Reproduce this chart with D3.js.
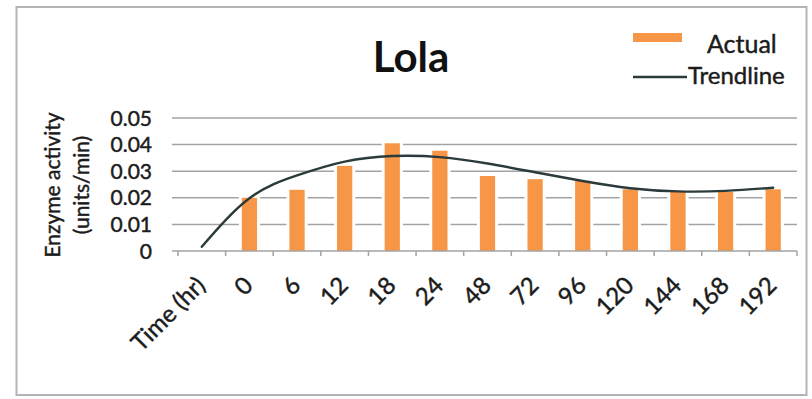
<!DOCTYPE html>
<html>
<head>
<meta charset="utf-8">
<script src="https://cdn.jsdelivr.net/npm/d3@7"></script>
<style>
  html, body { margin: 0; padding: 0; background: #fff; }
  svg { display: block; font-family: Lato, "Open Sans", sans-serif; }
  .lbl { stroke: #1c1c1c; stroke-width: 0.45px; }
</style>
</head>
<body>
<svg id="chart" width="812" height="399"></svg>
<script>
// Sampling times (first slot carries the axis caption)
const categories = ["Time (hr)", "0", "6", "12", "18", "24", "48", "72", "96", "120", "144", "168", "192"];
// Measured enzyme activity (units/min); no measurement in the caption slot
const actual = [null, 0.020, 0.023, 0.032, 0.0405, 0.0377, 0.0282, 0.027, 0.0264, 0.0232, 0.0222, 0.0222, 0.0232];
// Fitted trend values at each category
const trend = [0.0016, 0.0198, 0.0284, 0.0336, 0.0357, 0.0353, 0.0329, 0.0296, 0.0263, 0.0236, 0.0224, 0.0226, 0.0238];
const yTicks = [0, 0.01, 0.02, 0.03, 0.04, 0.05];
const yTickLabels = ["0", "0.01", "0.02", "0.03", "0.04", "0.05"];

const ORANGE = "#F79646";
const LINE = "#2b3a3a";
const GRID = "#a3a3a3";
const TEXT = "#1c1c1c";

const svg = d3.select("#chart");

// outer frame
svg.append("rect")
  .attr("x", 16.5).attr("y", 7).attr("width", 790).attr("height", 388)
  .attr("fill", "#fff").attr("stroke", "#b4b4b4").attr("stroke-width", 2);

const x = d3.scaleBand().domain(categories).range([178, 797]).padding(0);
const y = d3.scaleLinear().domain([0, 0.05]).range([251, 118]);

// horizontal gridlines
svg.append("g").selectAll("line")
  .data(yTicks.slice(1))
  .join("line")
  .attr("x1", 172).attr("x2", 797)
  .attr("y1", d => y(d)).attr("y2", d => y(d))
  .attr("stroke", GRID).attr("stroke-width", 1.5);

// y tick labels
svg.append("g").selectAll("text")
  .data(yTicks)
  .join("text")
  .attr("class", "lbl")
  .attr("x", 152).attr("y", d => y(d))
  .attr("dy", "0.36em")
  .attr("text-anchor", "end")
  .attr("font-size", 21)
  .attr("fill", TEXT)
  .text((d, i) => yTickLabels[i]);

// bars with a white halo that interrupts the gridlines
const barW = x.bandwidth() * 0.32;
const bars = categories.map((c, i) => ({ c, v: actual[i] })).filter(d => d.v != null);
svg.append("g").selectAll("rect")
  .data(bars)
  .join("rect")
  .attr("x", d => x(d.c) + (x.bandwidth() - barW) / 2 - 3)
  .attr("width", barW + 6)
  .attr("y", d => y(d.v) - 3)
  .attr("height", d => y(0) - y(d.v) + 2)
  .attr("fill", "#fff");
svg.append("g").selectAll("rect")
  .data(bars)
  .join("rect")
  .attr("x", d => x(d.c) + (x.bandwidth() - barW) / 2)
  .attr("width", barW)
  .attr("y", d => y(d.v))
  .attr("height", d => y(0) - y(d.v))
  .attr("fill", ORANGE);

// x axis line and ticks
const xAxis = svg.append("g");
xAxis.append("line")
  .attr("x1", 172).attr("x2", 797)
  .attr("y1", y(0)).attr("y2", y(0))
  .attr("stroke", GRID).attr("stroke-width", 1.5);
const edges = categories.map(c => x(c)).concat([x.range()[1]]);
xAxis.selectAll("line.tick")
  .data(edges)
  .join("line")
  .attr("class", "tick")
  .attr("x1", d => d).attr("x2", d => d)
  .attr("y1", y(0)).attr("y2", y(0) + 5)
  .attr("stroke", GRID).attr("stroke-width", 1.5);

// rotated category labels
svg.append("g").selectAll("text")
  .data(categories)
  .join("text")
  .attr("class", "lbl")
  .attr("transform", d => `translate(${x(d) + x.bandwidth() / 2 + 5},${y(0) + 36}) rotate(-45)`)
  .attr("text-anchor", "end")
  .attr("font-size", 24)
  .attr("fill", TEXT)
  .text(d => d);

// trend curve
const linePath = d3.line()
  .x((d, i) => x(categories[i]) + x.bandwidth() / 2)
  .y(d => y(d))
  .curve(d3.curveNatural);
svg.append("path")
  .attr("d", linePath(trend))
  .attr("fill", "none")
  .attr("stroke", LINE)
  .attr("stroke-width", 2.4)
  .attr("stroke-linecap", "round");

// y axis title
const yTitle = svg.append("text")
  .attr("class", "lbl")
  .attr("transform", "translate(60,185) rotate(-90)")
  .attr("text-anchor", "middle")
  .attr("font-size", 21)
  .attr("fill", TEXT);
yTitle.append("tspan").attr("x", 0).attr("dy", 0).text("Enzyme activity");
yTitle.append("tspan").attr("x", 0).attr("dy", 29).text("(units/min)");

// chart title
svg.append("text")
  .attr("x", 411).attr("y", 72)
  .attr("text-anchor", "middle")
  .attr("font-size", 42)
  .attr("font-weight", "bold")
  .attr("fill", "#111")
  .text("Lola");

// legend
const legend = svg.append("g");
legend.append("rect")
  .attr("x", 633).attr("y", 33).attr("width", 49).attr("height", 9)
  .attr("fill", ORANGE);
legend.append("text")
  .attr("class", "lbl")
  .attr("x", 707).attr("y", 53)
  .attr("font-size", 25).attr("fill", TEXT)
  .text("Actual");
legend.append("line")
  .attr("x1", 633).attr("x2", 687).attr("y1", 77).attr("y2", 77)
  .attr("stroke", LINE).attr("stroke-width", 2.4);
legend.append("text")
  .attr("class", "lbl")
  .attr("x", 688).attr("y", 84)
  .attr("font-size", 24).attr("fill", TEXT)
  .text("Trendline");
</script>
</body>
</html>
